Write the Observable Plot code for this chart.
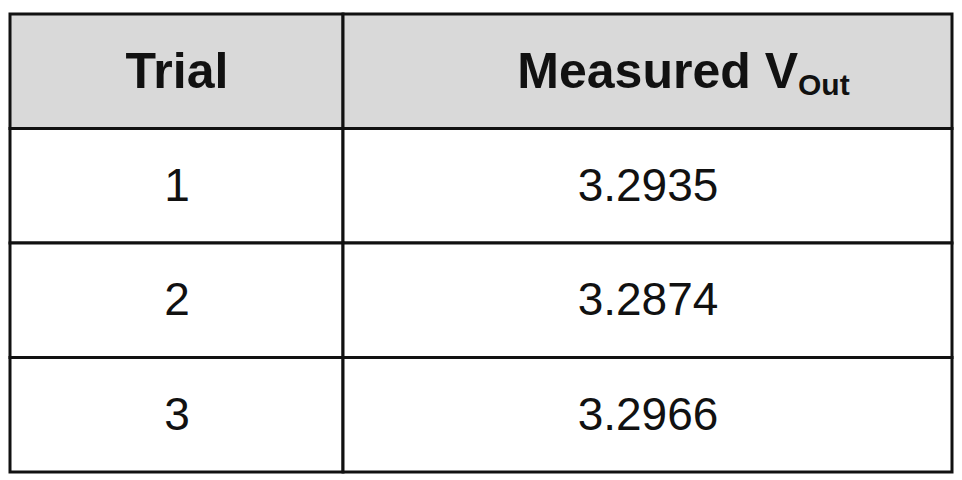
<!DOCTYPE html>
<html>
<head>
<script src="https://cdn.jsdelivr.net/npm/d3@7"></script>
<script src="https://cdn.jsdelivr.net/npm/@observablehq/plot@0.6"></script>
<style>body{margin:0;background:#fff;font-family:"Liberation Sans",Arial,sans-serif}</style>
</head>
<body>
<div id="chart"></div>
<script>
const headers = ["Trial", "Measured V"];
const headerSub = "Out";
const trials = ["1", "2", "3"];
const vout = ["3.2935", "3.2874", "3.2966"];

// layout (pixels)
const tLeft = 10, tSplit = 343, tRight = 952, tTop = 14, rowH = 114.5;
const cols = [[tLeft, tSplit], [tSplit, tRight]];
const nRows = trials.length + 1;

const cells = [];
for (let r = 0; r < nRows; r++) {
  cols.forEach((c, i) => {
    cells.push({x1: c[0], x2: c[1], y1: tTop + r * rowH, y2: tTop + (r + 1) * rowH,
      header: r === 0, text: r === 0 ? headers[i] : (i === 0 ? trials[r - 1] : vout[r - 1]), col: i});
  });
}
const mid = d => (d.x1 + d.x2) / 2;
const body = cells.filter(d => !d.header);
const head = cells.filter(d => d.header);

const chart = Plot.plot({
  width: 962, height: 480, margin: 0,
  x: {domain: [0, 962], range: [0, 962], axis: null},
  y: {domain: [0, 480], range: [0, 480], axis: null},
  marks: [
    Plot.rect(cells, {x1: "x1", x2: "x2", y1: "y1", y2: "y2",
      fill: d => d.header ? "#d9d9d9" : "#fff", stroke: "#111", strokeWidth: 3}),
    Plot.text(body, {x: mid, y: d => (d.y1 + d.y2) / 2, text: "text",
      fontSize: 46, fill: "#111", fontFamily: "Liberation Sans"}),
    Plot.text(head.filter(d => d.col === 0), {x: mid, y: d => (d.y1 + d.y2) / 2, text: "text",
      fontSize: 50, fontWeight: "bold", fill: "#111", fontFamily: "Liberation Sans"}),
    Plot.text(head.filter(d => d.col === 1), {x: d => mid(d) + 150, y: d => (d.y1 + d.y2) / 2, text: "text",
      textAnchor: "end", fontSize: 50, fontWeight: "bold", fill: "#111", fontFamily: "Liberation Sans"}),
    Plot.text(head.filter(d => d.col === 1), {x: d => mid(d) + 150, y: d => (d.y1 + d.y2) / 2 + 14, text: () => headerSub,
      textAnchor: "start", fontSize: 30, fontWeight: "bold", fill: "#111", fontFamily: "Liberation Sans"})
  ]
});
d3.select("#chart").append(() => chart);
</script>
</body>
</html>
